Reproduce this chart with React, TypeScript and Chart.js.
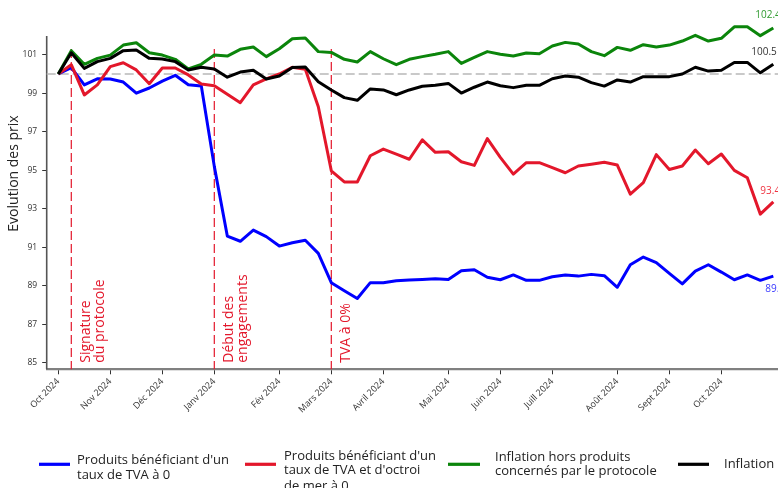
import React, { useEffect, useRef } from 'react';
import { Chart, registerables } from 'chart.js';

Chart.register(...registerables);

// ---- data ----
const tickWeeks = [0, 4, 8, 12, 17, 21, 25, 30, 34, 38, 43, 47, 51];
const tickLabels = [
  'Oct 2024', 'Nov 2024', 'Déc 2024', 'Janv 2024', 'Fév 2024', 'Mars 2024',
  'Avril 2024', 'Mai 2024', 'Juin 2024', 'Juill 2024', 'Août 2024', 'Sept 2024', 'Oct 2024',
];
const yTickValues = [85, 87, 89, 91, 93, 95, 97, 99, 101];

const blueValues = [
  100, 100.33, 99.43, 99.75, 99.74, 99.58, 99.0, 99.27, 99.63, 99.93, 99.44, 99.37,
  95.2, 91.58, 91.31, 91.89, 91.55, 91.06, 91.23, 91.36, 90.68,
  89.16, 88.74, 88.34, 89.16, 89.16, 89.26, 89.3, 89.33, 89.36, 89.33,
  89.78, 89.83, 89.44, 89.31, 89.56, 89.28, 89.28, 89.47, 89.56, 89.5,
  89.59, 89.52, 88.92, 90.09, 90.49, 90.2, 89.64, 89.1, 89.76, 90.09,
  89.71, 89.31, 89.56, 89.28, 89.5,
];
const redValues = [
  100, 100.48, 98.91, 99.43, 100.38, 100.58, 100.21, 99.49, 100.31, 100.31, 99.95, 99.48,
  99.39, 98.94, 98.51, 99.43, 99.74, 100.0, 100.35, 100.24, 98.3,
  94.97, 94.39, 94.39, 95.75, 96.1, 95.84, 95.57, 96.58, 95.93, 95.96,
  95.44, 95.25, 96.64, 95.67, 94.8, 95.39, 95.39, 95.13, 94.87, 95.22,
  95.31, 95.41, 95.27, 93.76, 94.35, 95.81, 95.04, 95.22, 96.05, 95.34,
  95.84, 94.99, 94.61, 92.72, 93.36,
];
const greenValues = [
  100, 101.21, 100.5, 100.81, 100.98, 101.5, 101.62, 101.1, 100.98, 100.76, 100.26, 100.5,
  100.98, 100.93, 101.28, 101.4, 100.9, 101.31, 101.83, 101.87, 101.16,
  101.12, 100.76, 100.62, 101.16, 100.79, 100.48, 100.76, 100.9, 101.02, 101.16,
  100.55, 100.86, 101.16, 101.02, 100.93, 101.09, 101.05, 101.45, 101.64, 101.56,
  101.16, 100.95, 101.38, 101.23, 101.52, 101.4, 101.5, 101.71, 102.01, 101.71,
  101.85, 102.45, 102.45, 101.99, 102.39,
];
const blackValues = [
  100, 101.1, 100.29, 100.64, 100.81, 101.21, 101.24, 100.81, 100.78, 100.64, 100.21, 100.35,
  100.26, 99.83, 100.1, 100.19, 99.74, 99.89, 100.33, 100.36, 99.6,
  99.17, 98.77, 98.63, 99.22, 99.17, 98.92, 99.17, 99.36, 99.41, 99.51,
  99.01, 99.31, 99.58, 99.39, 99.29, 99.41, 99.41, 99.75, 99.89, 99.83,
  99.55, 99.37, 99.69, 99.58, 99.86, 99.86, 99.86, 100.0, 100.35, 100.15,
  100.19, 100.6, 100.6, 100.06, 100.5,
];

const seriesNames = [
  ["Produits bénéficiant d'un", 'taux de TVA à 0'],
  ["Produits bénéficiant d'un", "taux de TVA et d'octroi", 'de mer à 0'],
  ['Inflation hors produits', 'concernés par le protocole'],
  ['Inflation'],
];
const seriesColors = ['#0000ff', '#e3172b', '#0b850b', '#000000'];
const endLabelColors = ['#3a3aff', '#ef3340', '#2f9a2f', '#333333'];

const eventWeeks = [1, 12, 21];
const eventLabels = [['Signature', 'du protocole'], ['Début des', 'engagements'], ['TVA à 0%']];

const yTitle = 'Evolution des prix';
const baselineValue = 100;

const FONT = '"Open Sans", sans-serif';

export default function App() {
  const ref = useRef<HTMLCanvasElement | null>(null);

  useEffect(() => {
    const canvas = ref.current;
    if (!canvas) return;
    const allValues = [blueValues, redValues, greenValues, blackValues];

    const legendLayout = [
      { x1: 39, x2: 70, tx: 77, ty: [460, 475] },
      { x1: 245, x2: 276, tx: 284, ty: [456, 470.7, 486] },
      { x1: 448, x2: 480, tx: 495, ty: [457.7, 471.7] },
      { x1: 678, x2: 709, tx: 724, ty: [464.3] },
    ];
    const endOffsets = [
      { dx: -8, dy: 13 },
      { dx: -13, dy: -11 },
      { dx: -18, dy: -13 },
      { dx: -22, dy: -12.5 },
    ];

    const decor = {
      id: 'decor',
      beforeDatasetsDraw(chart: any) {
        const { ctx, chartArea: ca, scales } = chart;
        const x = scales.x, y = scales.y;
        ctx.save();
        // left spine (starts a bit below the top of the plot area)
        ctx.strokeStyle = '#555';
        ctx.lineWidth = 1.6;
        ctx.beginPath();
        ctx.moveTo(ca.left, 36);
        ctx.lineTo(ca.left, ca.bottom);
        ctx.stroke();

        ctx.strokeStyle = '#b8b8b8';
        ctx.lineWidth = 1.5;
        ctx.setLineDash([9, 4]);
        const yb = y.getPixelForValue(baselineValue);
        ctx.beginPath();
        ctx.moveTo(ca.left, yb);
        ctx.lineTo(ca.right, yb);
        ctx.stroke();

        ctx.strokeStyle = '#e3172b';
        ctx.lineWidth = 1.2;
        ctx.setLineDash([9, 4]);
        eventWeeks.forEach((w) => {
          const px = x.getPixelForValue(w);
          ctx.beginPath();
          ctx.moveTo(px, y.getPixelForValue(101.3));
          ctx.lineTo(px, ca.bottom);
          ctx.stroke();
        });
        ctx.restore();
      },
      afterDatasetsDraw(chart: any) {
        const { ctx, scales } = chart;
        const x = scales.x, y = scales.y;
        ctx.save();
        // event annotations
        ctx.fillStyle = '#e3172b';
        ctx.font = `14px ${FONT}`;
        ctx.textAlign = 'left';
        ctx.textBaseline = 'alphabetic';
        eventWeeks.forEach((w, i) => {
          const px = x.getPixelForValue(w);
          const py = y.getPixelForValue(85);
          eventLabels[i].forEach((line, j) => {
            ctx.save();
            ctx.translate(px + 18.5 + j * 14, py);
            ctx.rotate(-Math.PI / 2);
            ctx.fillText(line, 0, 0);
            ctx.restore();
          });
        });
        // end labels
        ctx.font = `10px ${FONT}`;
        ctx.textBaseline = 'middle';
        allValues.forEach((vals, i) => {
          const last = vals.length - 1;
          const px = x.getPixelForValue(last);
          const py = y.getPixelForValue(vals[last]);
          ctx.fillStyle = endLabelColors[i];
          ctx.fillText(vals[last].toFixed(1), px + endOffsets[i].dx, py + endOffsets[i].dy);
        });
        ctx.restore();
      },
      afterDraw(chart: any) {
        const { ctx } = chart;
        ctx.save();
        // y title
        ctx.fillStyle = '#222';
        ctx.font = `14px ${FONT}`;
        ctx.textAlign = 'center';
        ctx.textBaseline = 'middle';
        ctx.translate(14, 173.5);
        ctx.rotate(-Math.PI / 2);
        ctx.fillText(yTitle, 0, 0);
        ctx.restore();
        // legend
        ctx.save();
        ctx.font = `13px ${FONT}`;
        ctx.textAlign = 'left';
        ctx.textBaseline = 'middle';
        legendLayout.forEach((l, i) => {
          ctx.strokeStyle = seriesColors[i];
          ctx.lineWidth = 3.2;
          ctx.beginPath();
          ctx.moveTo(l.x1, 464.3);
          ctx.lineTo(l.x2, 464.3);
          ctx.stroke();
          ctx.fillStyle = '#222';
          seriesNames[i].forEach((t, j) => ctx.fillText(t, l.tx, l.ty[j]));
        });
        ctx.restore();
      },
    };

    const mk = (vals: number[], i: number, order: number) => ({
      label: seriesNames[i].join(' '),
      data: vals.map((v, k) => ({ x: k, y: v })),
      borderColor: seriesColors[i],
      backgroundColor: seriesColors[i],
      borderWidth: 3,
      pointRadius: 0,
      tension: 0,
      borderJoinStyle: 'round' as const,
      fill: false,
      order,
    });

    const chart = new Chart(canvas, {
      type: 'line',
      data: {
        datasets: [
          mk(blueValues, 0, 3),
          mk(redValues, 1, 2),
          mk(greenValues, 2, 1),
          mk(blackValues, 3, 0),
        ],
      },
      options: {
        animation: false,
        responsive: false,
        devicePixelRatio: 1,
        layout: { padding: { top: 16.2, left: 0, right: 0, bottom: 0 } },
        plugins: { legend: { display: false }, tooltip: { enabled: false } },
        scales: {
          x: {
            type: 'linear',
            min: -0.892,
            max: 55.36,
            afterBuildTicks: (scale: any) => {
              scale.ticks = tickWeeks.map((v) => ({ value: v }));
            },
            afterFit: (scale: any) => {
              scale.height = 118.7;
              scale.paddingLeft = 0;
              scale.paddingRight = 0;
            },
            ticks: {
              autoSkip: false,
              maxRotation: 45,
              minRotation: 45,
              padding: 2,
              color: '#333',
              font: { family: FONT, size: 9 },
              callback: (value: any) => {
                const idx = tickWeeks.indexOf(Number(value));
                return idx >= 0 ? tickLabels[idx] : '';
              },
            },
            grid: { drawOnChartArea: false, drawTicks: true, tickLength: 5, color: '#333', lineWidth: 1 },
            border: { display: true, color: '#808080', width: 2.2 },
          },
          y: {
            type: 'linear',
            min: 84.66,
            max: 103,
            afterBuildTicks: (scale: any) => {
              scale.ticks = yTickValues.map((v) => ({ value: v }));
            },
            afterFit: (scale: any) => {
              scale.width = 46.7;
              scale.paddingTop = 0;
              scale.paddingBottom = 0;
            },
            ticks: {
              padding: 5,
              color: '#333',
              font: { family: FONT, size: 8.5 },
              callback: (value: any) => String(value),
            },
            grid: { drawOnChartArea: false, drawTicks: true, tickLength: 4.5, color: '#333', lineWidth: 1 },
            border: { display: false },
          },
        },
      },
      plugins: [decor],
    });
    return () => chart.destroy();
  }, []);

  return (
    <div style={{ position: 'absolute', left: 0, top: 0, width: 778, height: 488, background: '#fff' }}>
      <canvas ref={ref} width={778} height={488} style={{ width: 778, height: 488, display: 'block' }} />
    </div>
  );
}
